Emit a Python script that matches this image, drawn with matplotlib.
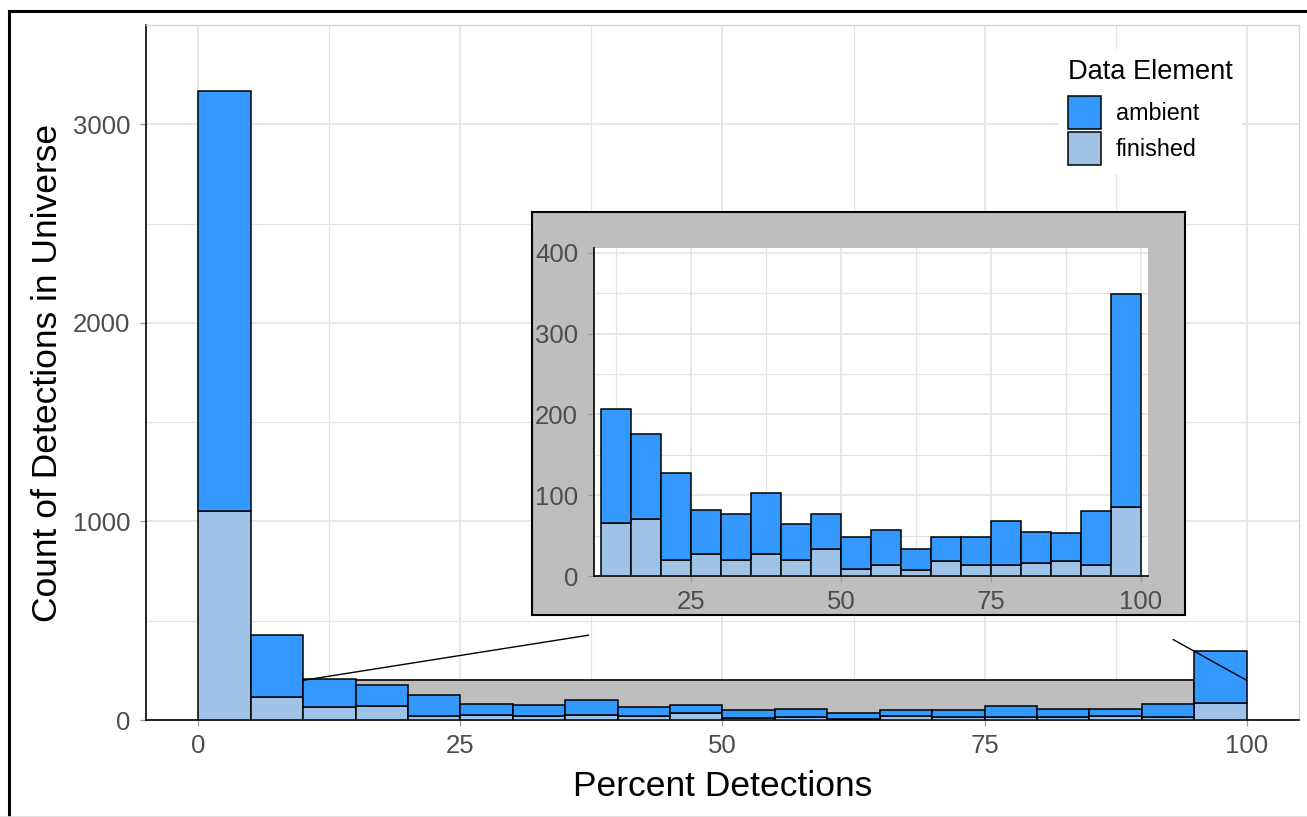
import numpy as np
import matplotlib
matplotlib.use("Agg")
import matplotlib.pyplot as plt
from matplotlib.patches import Patch, Rectangle
from matplotlib.lines import Line2D

# ---------------- data ----------------
bin_left = [0, 5, 10, 15, 20, 25, 30, 35, 40, 45, 50, 55, 60, 65, 70, 75, 80, 85, 90, 95]
bin_width = 5
finished = [1053, 118, 66, 70, 20, 27, 20, 27, 20, 34, 9, 14, 7, 18, 13, 13, 16, 18, 13, 85]
ambient = [2117, 308, 141, 106, 107, 55, 57, 76, 44, 43, 39, 43, 27, 30, 35, 55, 39, 35, 67, 264]
series_names = ["ambient", "finished"]

main_xticks = [0, 25, 50, 75, 100]
main_yticks = [0, 1000, 2000, 3000]
inset_xticks = [25, 50, 75, 100]
inset_yticks = [0, 100, 200, 300, 400]

# zoom-window annotation (data coords of main axes)
zoom_x0, zoom_x1, zoom_y1 = 10, 95, 200
conn_left = ([10, 37.2], [200, 427])
conn_right = ([93, 100], [405, 200])

# ---------------- style ----------------
C_AMB = "#3399FF"
C_FIN = "#9FC3E6"
GRID = "#E3E3E3"
TICKC = "#4D4D4D"
plt.rcParams["font.family"] = ["Liberation Sans", "DejaVu Sans"]

W, H = 1307, 817
fig = plt.figure(figsize=(W / 100, H / 100), dpi=100)

def fax(x0, y0, x1, y1, **kw):
    return fig.add_axes([x0 / W, 1 - y1 / H, (x1 - x0) / W, (y1 - y0) / H], **kw)

left = np.array(bin_left, dtype=float)
fin = np.array(finished, dtype=float)
amb = np.array(ambient, dtype=float)

def style_axes(a, xticks, yticks, xminor, yminor, lab_size):
    a.set_axisbelow(True)
    a.set_xticks(xticks)
    a.set_yticks(yticks)
    a.set_xticks(xminor, minor=True)
    a.set_yticks(yminor, minor=True)
    a.grid(True, which="major", color=GRID, lw=1.2, zorder=0)
    a.grid(True, which="minor", color=GRID, lw=0.9, zorder=0)
    a.tick_params(which="major", length=4, width=0.9, color="#9A9A9A",
                  labelcolor=TICKC, labelsize=lab_size)
    a.tick_params(axis="x", which="major", pad=6)
    a.tick_params(axis="y", which="major", pad=7.5)
    a.tick_params(which="minor", length=0)
    for s in ("left", "bottom"):
        a.spines[s].set_color("black")
        a.spines[s].set_linewidth(1.2)

# ---------------- main axes ----------------
ax = fax(146, 25, 1299, 720)
style_axes(ax, main_xticks, main_yticks, [12.5, 37.5, 62.5, 87.5],
           [500, 1500, 2500], 18.5)
for s in ("top", "right"):
    ax.spines[s].set_color("#D4D4D4")
    ax.spines[s].set_linewidth(1.0)
ax.set_xlim(-5, 105)
ax.set_ylim(0, 3500)

ax.add_patch(Rectangle((zoom_x0, 0), zoom_x1 - zoom_x0, zoom_y1,
                       facecolor="#BEBEBE", edgecolor="black", lw=1.2, zorder=2))
ax.bar(left, fin, width=bin_width, align="edge", color=C_FIN,
       edgecolor="black", lw=1.1, zorder=3)
ax.bar(left, amb, bottom=fin, width=bin_width, align="edge", color=C_AMB,
       edgecolor="black", lw=1.1, zorder=3)
ax.plot(*conn_left, color="black", lw=1.0, zorder=5)
ax.plot(*conn_right, color="black", lw=1.0, zorder=5)

ax.set_xlabel("Percent Detections", fontsize=25.5, labelpad=9)
ax.set_ylabel("Count of Detections in Universe", fontsize=25.5, labelpad=6)

handles = [Patch(facecolor=C_AMB, edgecolor="black", lw=1.1),
           Patch(facecolor=C_FIN, edgecolor="black", lw=1.1)]
leg = ax.legend(handles, series_names, title="Data Element",
                loc="upper left", bbox_to_anchor=(1059 / W, 1 - 49.5 / H),
                bbox_transform=fig.transFigure, frameon=True, fancybox=False,
                edgecolor="none", facecolor="white", framealpha=1,
                fontsize=16.8, title_fontsize=19.6, handlelength=1.42,
                handleheight=1.80, labelspacing=0.12, handletextpad=0.62,
                borderpad=0.4, borderaxespad=0, alignment="left")
leg._legend_box.sep = 8

# ---------------- inset ----------------
bg = fax(532, 212, 1185, 615, zorder=5)
bg.set_facecolor("#BEBEBE")
bg.set_xticks([])
bg.set_yticks([])
for s in bg.spines.values():
    s.set_color("black")
    s.set_linewidth(1.5)

ins = fax(594, 248, 1148, 576, zorder=6)
style_axes(ins, inset_xticks, inset_yticks, [12.5, 37.5, 62.5, 87.5],
           [50, 150, 250, 350], 18.5)
for s in ("top", "right"):
    ins.spines[s].set_visible(False)
ins.set_xlim(8.8, 101.2)
ins.set_ylim(0, 406)
m = left >= 10
ins.bar(left[m], fin[m], width=bin_width, align="edge", color=C_FIN,
        edgecolor="black", lw=1.1, zorder=3)
ins.bar(left[m], amb[m], bottom=fin[m], width=bin_width, align="edge",
        color=C_AMB, edgecolor="black", lw=1.1, zorder=3)

# ---------------- figure border ----------------
fig.add_artist(Line2D([9 / W, 9 / W], [0, 1 - 11 / H], transform=fig.transFigure,
                      color="black", lw=2.2))
fig.add_artist(Line2D([9 / W, 1], [1 - 11 / H, 1 - 11 / H], transform=fig.transFigure,
                      color="black", lw=2.2))
fig.add_artist(Line2D([0, 1], [0.5 / H, 0.5 / H], transform=fig.transFigure,
                      color="#DDDDDD", lw=1.2))

fig.savefig("out.png", dpi=100)
